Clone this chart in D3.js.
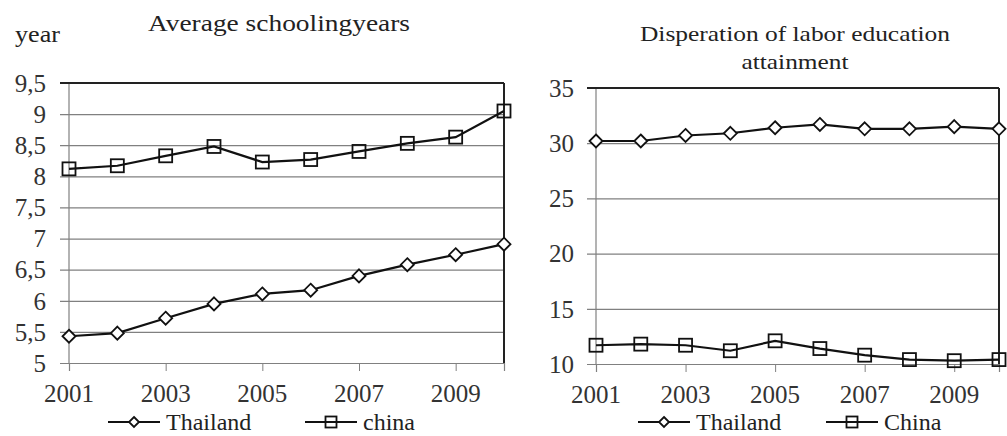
<!DOCTYPE html>
<html><head><meta charset="utf-8">
<script src="https://cdn.jsdelivr.net/npm/d3@7"></script>
<style>
html,body{margin:0;padding:0;background:#fff;}
svg{display:block;}
</style></head>
<body>
<svg id="chart" width="1007" height="436"></svg>
<script>
const years = [2001,2002,2003,2004,2005,2006,2007,2008,2009,2010];
const xTickYears = [2001,2003,2005,2007,2009];

// Left chart: Average schooling years
const schoolThailand = [5.43,5.48,5.72,5.95,6.11,6.17,6.40,6.58,6.74,6.91];
const schoolChina    = [8.12,8.17,8.33,8.48,8.23,8.27,8.40,8.53,8.63,9.05];
const schoolTicks = [5,5.5,6,6.5,7,7.5,8,8.5,9,9.5];
const schoolTickLabels = ["5","5,5","6","6,5","7","7,5","8","8,5","9","9,5"];

// Right chart: Disperation of labor education attainment
const dispThailand = [30.2,30.2,30.7,30.9,31.4,31.7,31.3,31.3,31.5,31.3];
const dispChina    = [11.7,11.8,11.7,11.2,12.1,11.4,10.8,10.4,10.3,10.4];
const dispTicks = [10,15,20,25,30,35];
const dispTickLabels = ["10","15","20","25","30","35"];

const FONT = "'Liberation Serif', 'Times New Roman', serif";
const svg = d3.select("#chart");

function txt(g, x, y, s, size, anchor, fill){
  return g.append("text").attr("x",x).attr("y",y)
    .style("font-family",FONT).style("font-size",size+"px")
    .style("fill",fill||"#222").attr("text-anchor",anchor||"start").text(s);
}
function diamond(g, x, y, r){
  g.append("path").attr("d", `M${x},${y-r}L${x+r},${y}L${x},${y+r}L${x-r},${y}Z`)
   .attr("fill","#fff").attr("stroke","#111").attr("stroke-width",1.8);
}
function square(g, x, y, r){
  g.append("rect").attr("x",x-r).attr("y",y-r).attr("width",2*r).attr("height",2*r)
   .attr("fill","none").attr("stroke","#111").attr("stroke-width",1.8);
}

function drawChart(cfg){
  const g = svg.append("g");
  const x = d3.scaleLinear().domain([2001,2010]).range([cfg.x0, cfg.x1]);
  const y = d3.scaleLinear().domain(cfg.domain).range([cfg.y0, cfg.y1]);

  // gridlines
  const yAxis = d3.axisLeft(y).tickValues(cfg.ticks).tickSize(0).tickFormat("");
  const ya = g.append("g").call(yAxis);
  ya.select(".domain").remove();
  ya.selectAll(".tick text").remove();
  ya.selectAll(".tick line").attr("stroke","#808080").attr("stroke-width",1.2)
    .attr("x1",cfg.x0-9).attr("x2",cfg.x1);
  cfg.ticks.forEach((t,i)=>{
    txt(g, cfg.labelX, y(t), cfg.tickLabels[i], 25, "end", "#333").attr("dy","0.35em");
  });

  // x axis
  const xAxis = d3.axisBottom(x).tickValues(xTickYears).tickSize(8).tickFormat("");
  const xa = g.append("g").attr("transform",`translate(0,${cfg.y0})`).call(xAxis);
  xa.select(".domain").attr("stroke","#808080").attr("stroke-width",1.2);
  xa.selectAll(".tick line").attr("stroke","#808080");
  xa.selectAll(".tick text").remove();
  xTickYears.forEach(yr=>{
    txt(g, x(yr), cfg.y0 + 39, String(yr), 25, "middle", "#333");
  });

  // frame
  g.append("line").attr("x1",cfg.x0).attr("x2",cfg.x0).attr("y1",cfg.y1).attr("y2",cfg.y0)
   .attr("stroke","#808080").attr("stroke-width",1.2);
  g.append("line").attr("x1",cfg.x0-9).attr("x2",cfg.x1).attr("y1",cfg.y1).attr("y2",cfg.y1)
   .attr("stroke","#222").attr("stroke-width",2);
  g.append("line").attr("x1",cfg.x1).attr("x2",cfg.x1).attr("y1",cfg.y1).attr("y2",cfg.y0)
   .attr("stroke","#222").attr("stroke-width",2);

  const line = d3.line().x((d,i)=>x(years[i])).y(d=>y(d));
  cfg.series.forEach(s=>{
    g.append("path").datum(s.values).attr("d",line).attr("fill","none")
     .attr("stroke","#111").attr("stroke-width",2.2);
    s.values.forEach((v,i)=>{
      if(s.marker==="diamond") diamond(g, x(years[i]), y(v), 6.5);
      else square(g, x(years[i]), y(v), 6.5);
    });
  });

  // titles
  cfg.title.forEach(t=>{
    txt(g, t.x, t.y, t.text, t.size, "middle", "#222")
      .attr("textLength",t.w).attr("lengthAdjust","spacingAndGlyphs");
  });

  // legend
  cfg.legend.forEach(l=>{
    g.append("line").attr("x1",l.x).attr("x2",l.x+52).attr("y1",l.y).attr("y2",l.y)
     .attr("stroke","#111").attr("stroke-width",1.8);
    if(l.marker==="diamond") diamond(g,l.x+26,l.y,5);
    else square(g,l.x+26,l.y,5.5);
    txt(g, l.x+58, l.y+8, l.text, 24, "start", "#222");
  });
}

drawChart({
  x0:69, x1:504, y0:363, y1:83, domain:[5,9.5],
  ticks:schoolTicks, tickLabels:schoolTickLabels, labelX:46,
  series:[{values:schoolThailand, marker:"diamond"},{values:schoolChina, marker:"square"}],
  title:[{text:"Average schoolingyears", x:279, y:31, size:23, w:262}],
  legend:[{x:108,y:422,marker:"diamond",text:"Thailand"},{x:305,y:422,marker:"square",text:"china"}]
});
txt(svg, 15, 42, "year", 23, "start", "#222").attr("textLength",45).attr("lengthAdjust","spacingAndGlyphs");

drawChart({
  x0:596, x1:999, y0:364, y1:88, domain:[10,35],
  ticks:dispTicks, tickLabels:dispTickLabels, labelX:574,
  series:[{values:dispThailand, marker:"diamond"},{values:dispChina, marker:"square"}],
  title:[{text:"Disperation of labor education", x:795, y:41, size:22, w:310},
         {text:"attainment", x:795, y:69, size:22, w:107}],
  legend:[{x:638,y:422,marker:"diamond",text:"Thailand"},{x:826,y:422,marker:"square",text:"China"}]
});
</script>
</body></html>
